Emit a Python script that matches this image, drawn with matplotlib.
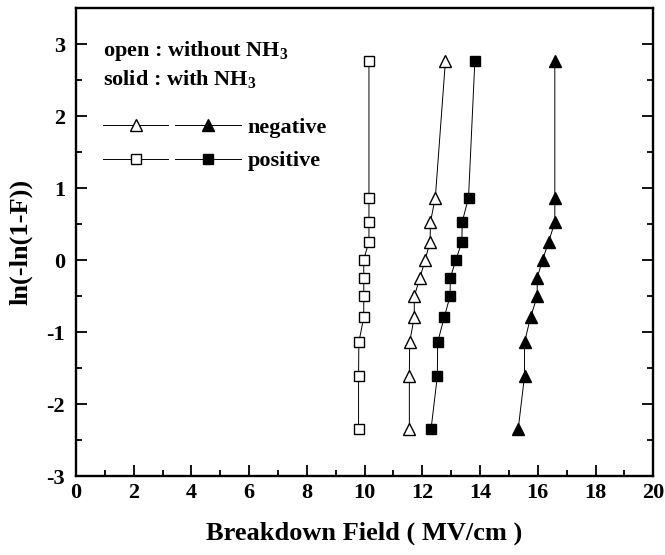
import matplotlib
matplotlib.use("Agg")
import matplotlib.pyplot as plt
from matplotlib.legend_handler import HandlerTuple
from matplotlib.ticker import MultipleLocator

plt.rcParams['font.family'] = ['Liberation Serif', 'DejaVu Serif']
plt.rcParams['font.weight'] = 'bold'
plt.rcParams['mathtext.fontset'] = 'custom'
plt.rcParams['mathtext.rm'] = 'Liberation Serif:bold'
plt.rcParams['mathtext.bf'] = 'Liberation Serif:bold'
plt.rcParams['axes.unicode_minus'] = False

# Weibull plotting positions ln(-ln(1-F))
weibull_y = [-2.35, -1.61, -1.14, -0.79, -0.50, -0.24, 0.01, 0.26, 0.53, 0.87, 2.77]

# breakdown field (MV/cm)
pos_without = [9.79, 9.79, 9.80, 9.97, 9.97, 9.97, 9.97, 10.15, 10.15, 10.15, 10.15]
neg_without = [11.55, 11.55, 11.56, 11.72, 11.72, 11.92, 12.10, 12.27, 12.28, 12.45, 12.80]
pos_with = [12.30, 12.52, 12.53, 12.76, 12.96, 12.97, 13.17, 13.37, 13.38, 13.60, 13.82]
neg_with = [15.32, 15.54, 15.54, 15.75, 15.98, 15.98, 16.17, 16.38, 16.59, 16.59, 16.59]

fig = plt.figure(figsize=(6.65, 5.55), dpi=100)
ax = fig.add_axes([0.1143, 0.142, 0.868, 0.843])

lw = 0.7
ms = 7.5
l1, = ax.plot(neg_without, weibull_y, color='black', lw=lw, marker='^', ms=ms + 1,
              mfc='white', mec='black', mew=1.0)
l2, = ax.plot(neg_with, weibull_y, color='black', lw=lw, marker='^', ms=ms + 1,
              mfc='black', mec='black')
l3, = ax.plot(pos_without, weibull_y, color='black', lw=lw, marker='s', ms=ms - 1,
              mfc='white', mec='black', mew=1.0)
l4, = ax.plot(pos_with, weibull_y, color='black', lw=lw, marker='s', ms=ms - 1,
              mfc='black', mec='black')

ax.set_xlim(0, 20)
ax.set_ylim(-3, 3.5)
ax.xaxis.set_major_locator(MultipleLocator(2))
ax.xaxis.set_minor_locator(MultipleLocator(1))
ax.yaxis.set_major_locator(MultipleLocator(1))
ax.yaxis.set_minor_locator(MultipleLocator(0.5))
ax.tick_params(which='both', direction='in', left=True, right=True, top=False,
               labelsize=16, width=1.3)
ax.tick_params(axis='x', pad=5)
ax.tick_params(axis='y', pad=8)
ax.tick_params(which='major', length=8)
ax.tick_params(which='minor', length=4)
for s in ax.spines.values():
    s.set_linewidth(1.7)

ax.set_xlabel('Breakdown Field ( MV/cm )', fontsize=19, fontweight='bold', labelpad=13)
ax.set_ylabel('ln(-ln(1-F))', fontsize=19, fontweight='bold', labelpad=10)

leg = ax.legend([(l1, l2), (l3, l4)], ['negative', 'positive'],
                handler_map={tuple: HandlerTuple(ndivide=None, pad=0.3)},
                title='open : without NH$_3$\nsolid : with NH$_3$',
                loc='upper left', bbox_to_anchor=(0.012, 0.978), frameon=False,
                fontsize=16, title_fontsize=16, handlelength=6.2,
                handletextpad=0.3, labelspacing=0.6, alignment='left')
leg.get_title().set_fontweight('bold')
leg.get_title().set_linespacing(1.35)
# extra gap between the header lines and the two marker rows
leg._legend_box.sep = 0.6 * 16 + 9

fig.savefig('out.png', dpi=100)
